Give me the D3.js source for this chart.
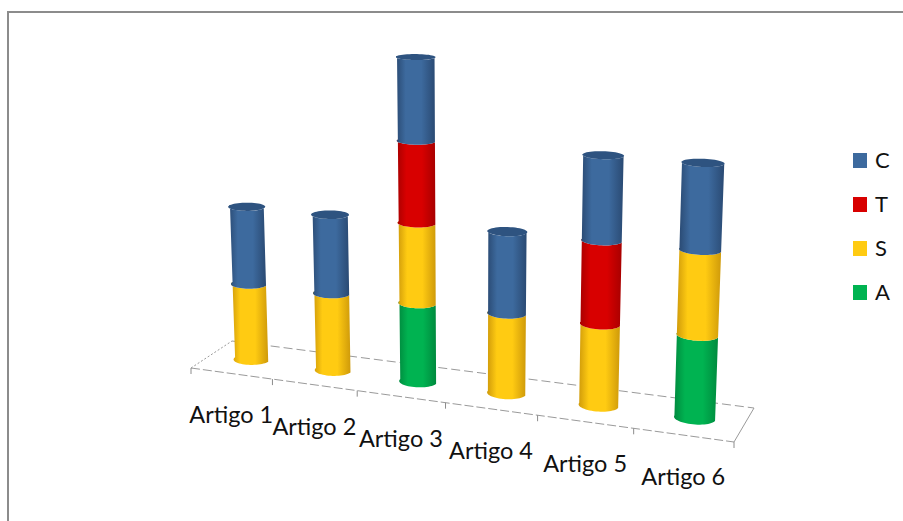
<!DOCTYPE html>
<html>
<head>
<meta charset="utf-8">
<style>
html,body{margin:0;padding:0;background:#fff;overflow:hidden}
svg{display:block}
text{font-family:Lato,"Open Sans",sans-serif;fill:#111}
</style>
<script src="https://cdnjs.cloudflare.com/ajax/libs/d3/7.8.5/d3.min.js"></script>
</head>
<body>
<svg id="chart" width="903" height="521"></svg>
<script>
const categories = ["Artigo 1","Artigo 2","Artigo 3","Artigo 4","Artigo 5","Artigo 6"];
const seriesA = [0,0,1,0,0,1];
const seriesS = [1,1,1,1,1,1];
const seriesT = [0,0,1,0,1,0];
const seriesC = [1,1,1,1,1,1];
const seriesNames = ["A","S","T","C"];
const legendOrder = ["C","T","S","A"];

const colors = {
  A:{mid:"#00B351",edge:"#008A3E"},
  S:{mid:"#FFCB12",edge:"#CF9A0A"},
  T:{mid:"#D80000",edge:"#A80000"},
  C:{mid:"#3D6A9E",edge:"#2A4A73",cap:"#2E5380"}
};

// Floor plane corners on screen: front-left, front-right, back-right, back-left
const floor = [[191,368],[734,442],[754,408],[232,341]];
const vanish = [469,7300];   // where the columns' vertical edges converge
const vertK = -0.0109;       // perspective strength per unit of height

// Unit square to quadrilateral homography
function squareToQuad(q){
  const [[x0,y0],[x1,y1],[x2,y2],[x3,y3]] = q;
  const dx1=x1-x2, dx2=x3-x2, sx=x0-x1+x2-x3;
  const dy1=y1-y2, dy2=y3-y2, sy=y0-y1+y2-y3;
  const det=dx1*dy2-dx2*dy1;
  const g=(sx*dy2-dx2*sy)/det, h=(dx1*sy-sx*dy1)/det;
  return {a:x1-x0+g*x1,b:x3-x0+h*x3,c:x0,d:y1-y0+g*y1,e:y3-y0+h*y3,f:y0,g,h};
}
const H = squareToQuad(floor);

// u: along the categories, v: depth into the floor, z: stacked value
function project(u,v,z){
  const X=H.a*u+H.b*v+H.c, Y=H.d*u+H.e*v+H.f, W=H.g*u+H.h*v+1;
  const t=z*vertK;
  return [(X+t*vanish[0])/(W+t),(Y+t*vanish[1])/(W+t)];
}

const uScale = d3.scaleBand().domain(categories).range([0,1]);
const zScale = d3.scaleLinear().domain([0,1]).range([0,1]);
const rU = 0.0345, rV = 0.18;

const svg = d3.select("#chart");
const defs = svg.append("defs");
seriesNames.forEach(s=>{
  const g = defs.append("linearGradient").attr("id","grad-"+s)
    .attr("x1",0).attr("x2",1).attr("y1",0).attr("y2",0);
  [[0,colors[s].edge],[0.25,colors[s].mid],[0.65,colors[s].mid],[1,colors[s].edge]]
    .forEach(([o,c])=>g.append("stop").attr("offset",o).attr("stop-color",c));
});

// Chart frame, running off the right and bottom of the page
svg.append("path")
  .attr("d","M8,521V12H903")
  .attr("fill","none").attr("stroke","#8c8c8c").attr("stroke-width",2);

// Floor grid
const line = d3.line();
const floorG = svg.append("g").attr("fill","none").attr("stroke","#9a9a9a").attr("stroke-width",1);
const pf = (u,v)=>project(u,v,0);
floorG.append("path").attr("d",line([pf(0,0),pf(1,0)])).attr("stroke-dasharray","9 3");
floorG.append("path").attr("d",line([pf(0,1),pf(1,1)])).attr("stroke-dasharray","9 4");
floorG.append("path").attr("d",line([pf(0,0),pf(0,1)])).attr("stroke-dasharray","2 2");
floorG.append("path").attr("d",line([pf(1,0),pf(1,1)]));

// Tick marks along the front edge
const tickU = categories.map(c=>uScale(c)).concat([1]);
floorG.selectAll("line.tick").data(tickU).join("line").attr("class","tick")
  .attr("x1",u=>pf(u,0)[0]).attr("y1",u=>pf(u,0)[1])
  .attr("x2",u=>pf(u,0)[0]).attr("y2",u=>pf(u,0)[1]+6)
  .attr("stroke","#8c8c8c");

// Category labels under the front edge
svg.append("g").selectAll("text").data(categories).join("text")
  .attr("text-anchor","middle").attr("font-size",23.5)
  .attr("x",c=>pf(uScale(c)+uScale.bandwidth()/2,0)[0])
  .attr("y",c=>pf(uScale(c)+uScale.bandwidth()/2,0)[1]+50)
  .text(c=>c);

// Stacked cylinders
const seriesValues = {A:seriesA,S:seriesS,T:seriesT,C:seriesC};
function ring(u,v,z,from,to,n=28){
  return d3.range(n+1).map(i=>{
    const t=from+(to-from)*i/n;
    return project(u+rU*Math.cos(t),v+rV*Math.sin(t),zScale(z));
  });
}
// Depth order back to front is left to right along the category axis
categories.forEach((cat,i)=>{
  const u=uScale(cat)+uScale.bandwidth()/2, v=0.5;
  const g=svg.append("g");
  let base=0, lastTop=null;
  seriesNames.forEach(s=>{
    const val=seriesValues[s][i];
    if(!val) return;
    const top=base+val;
    const outline=ring(u,v,base,Math.PI,2*Math.PI).concat(ring(u,v,top,2*Math.PI,Math.PI));
    g.append("path").attr("d",line(outline)+"Z").attr("fill",`url(#grad-${s})`);
    base=top; lastTop=s;
  });
  g.append("path").attr("d",line(ring(u,v,base,0,2*Math.PI,48))+"Z")
    .attr("fill",colors[lastTop].cap||colors[lastTop].edge);
});

// Legend
const legend = svg.append("g").selectAll("g").data(legendOrder).join("g")
  .attr("transform",(d,i)=>`translate(853,${153+i*44})`);
legend.append("rect").attr("width",14).attr("height",15)
  .attr("fill",d=>colors[d].mid);
legend.append("text").attr("x",22).attr("y",15).attr("font-size",22).text(d=>d);
</script>
</body>
</html>
